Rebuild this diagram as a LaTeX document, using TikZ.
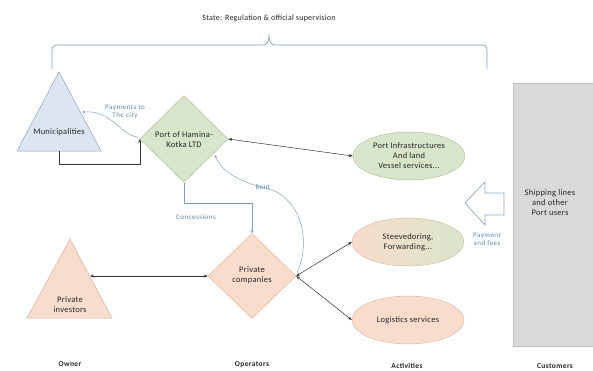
\documentclass[tikz,border=0pt]{standalone}
\usepackage{fontspec}
\setmainfont{Carlito}
\newfontfamily\mainsp[LetterSpace=3]{Carlito}
\newfontfamily\bluesp[LetterSpace=7]{Carlito}
\newfontfamily\footsp[LetterSpace=5]{Carlito}
\usetikzlibrary{shapes.geometric,arrows.meta,calc}
\definecolor{bluefill}{HTML}{DCE6F2}
\definecolor{blueline}{HTML}{8FA5C4}
\definecolor{greenfill}{HTML}{D9E5CB}
\definecolor{greenline}{HTML}{A9BC92}
\definecolor{peachfill}{HTML}{F9DCCB}
\definecolor{peachline}{HTML}{D7B49E}
\definecolor{grayfill}{HTML}{D9D9D9}
\definecolor{grayline}{HTML}{BFBFBF}
\definecolor{bracecol}{HTML}{7FA4C6}
\definecolor{labelblue}{HTML}{5A86B3}
\definecolor{txt}{HTML}{262626}
\tikzset{
  x=1pt, y=-1pt,
  every node/.style={text=txt, font=\mainsp\fontsize{8.5}{10}\selectfont, align=center},
  diabox/.style={shape=diamond, draw, inner sep=0pt, aspect=1},
  ellbox/.style={shape=ellipse, draw, minimum width=112pt, minimum height=48pt, inner sep=0pt},
  tri/.style={draw, line width=0.5pt},
  conn/.style={draw=black!80, line width=0.5pt, {Stealth[length=4pt,width=3pt]}-{Stealth[length=4pt,width=3pt]}},
  oneway/.style={draw=black!80, line width=0.5pt, -{Stealth[length=4pt,width=3pt]}},
  bluearr/.style={draw=labelblue!80, line width=0.45pt, -{Stealth[length=3pt,width=2.5pt]}},
  bluelbl/.style={text=labelblue, font=\bluesp\fontsize{7}{8}\selectfont},
  footlbl/.style={font=\footsp\bfseries\fontsize{7.5}{9}\selectfont},
}
\begin{document}
\begin{tikzpicture}
\useasboundingbox (0,0) rectangle (593,370);
\fill[white] (0,0) rectangle (593,370);

% title and brace
\node (state) at (269,18) {\fontsize{8}{9}\selectfont State: Regulation \& official supervision};
\draw[bracecol, line width=0.7pt]
  (52,69) -- (52,51) .. controls (52,46) and (54,45) .. (58,45) -- (262,45)
  .. controls (267,45) and (269,43) .. (269,34)
  .. controls (269,43) and (271,45) .. (276,45) -- (481,45)
  .. controls (485,45) and (487,46) .. (487,51) -- (487,69);

% Municipalities triangle
\coordinate (munTop) at (59,72);
\coordinate (munL) at (17,151);
\coordinate (munR) at (101,151);
\coordinate (munBase) at (59,151);
\coordinate (munEdge) at (82,112);
\draw[tri, fill=bluefill, draw=blueline] (munTop) -- (munR) -- (munL) -- cycle;
\node (mun) at (59,132) {Municipalities};

% Private investors triangle
\coordinate (pivTop) at (70,239);
\coordinate (pivL) at (27,318);
\coordinate (pivR) at (112,318);
\coordinate (pivEdge) at (90,276);
\draw[tri, fill=peachfill, draw=peachline] (pivTop) -- (pivR) -- (pivL) -- cycle;
\node (piv) at (70,305) {Private\\investors};

% Diamonds
\node[diabox, fill=greenfill, draw=greenline, minimum width=88pt, minimum height=87pt] (port) at (184,139) {};
\node at (184,140) {Port of Hamina-\\Kotka LTD};
\node[diabox, fill=peachfill, draw=peachline, minimum width=88pt, minimum height=85pt] (pc) at (252,276) {};
\node at (252,275) {Private\\companies};

% Ellipses
\node[ellbox, fill=greenfill, draw=greenline] (infra) at (409,156) {Port Infrastructures\\And land\\Vessel services...};
\node[ellbox, left color=peachfill, middle color=peachfill!70!greenfill, right color=greenfill, draw=peachline] (stev) at (408,242) {Steevedoring,\\Forwarding...};
\node[ellbox, fill=peachfill, draw=peachline] (logi) at (408,320) {Logistics services};

% Customers block
\node[draw=grayline, fill=grayfill, minimum width=90pt, minimum height=263pt, inner sep=0pt] (cust) at (558,214.5) {};
\node (custtxt) at (550,203) {Shipping lines\\and other\\Port users};

% hollow arrow
\draw[blueline, line width=0.7pt, fill=white] (465,203) -- (485,182) -- (485,193) -- (504,193) -- (504,215) -- (485,215) -- (485,225) -- cycle;
\node[bluelbl] (payfees) at (487,239) {Payment\\and fees};

% connectors
\draw[oneway] (munBase) -- ++(0,13) -| (port.west);
\draw[bluearr] ($(port.west)+(-2,-2)$) .. controls (120,135) and (112,110) .. (munEdge);
\node[bluelbl] (paylbl) at (125,112) {Payments to\\The city};

\draw[conn] (port.east) -- (infra.west);

\draw[bluearr] (port.south) -- ++(0,21) -| (pc.north);
\node[bluelbl] (conlbl) at (196,217) {Concessions};

\draw[bluearr] ($(pc.east)+(1,-4)$) .. controls (312,240) and (300,195) .. (265,188)
  .. controls (240,182) and (222,172) .. ($(port.east)!0.3!(port.south)+(0,3)$);
\node[bluelbl] (rentlbl) at (263,187) {Rent};

\draw[conn] (pivEdge) -- (pc.west);
\draw[conn] (pc.east) -- (stev.west);
\draw[conn] (pc.east) -- (logi.west);

% footer labels
\node[footlbl] (owner) at (70,364) {Owner};
\node[footlbl] (oper) at (252,365) {Operators};
\node[footlbl] (act) at (407,366) {Activities};
\node[footlbl] (custlbl) at (555,366) {Customers};
\end{tikzpicture}
\end{document}
